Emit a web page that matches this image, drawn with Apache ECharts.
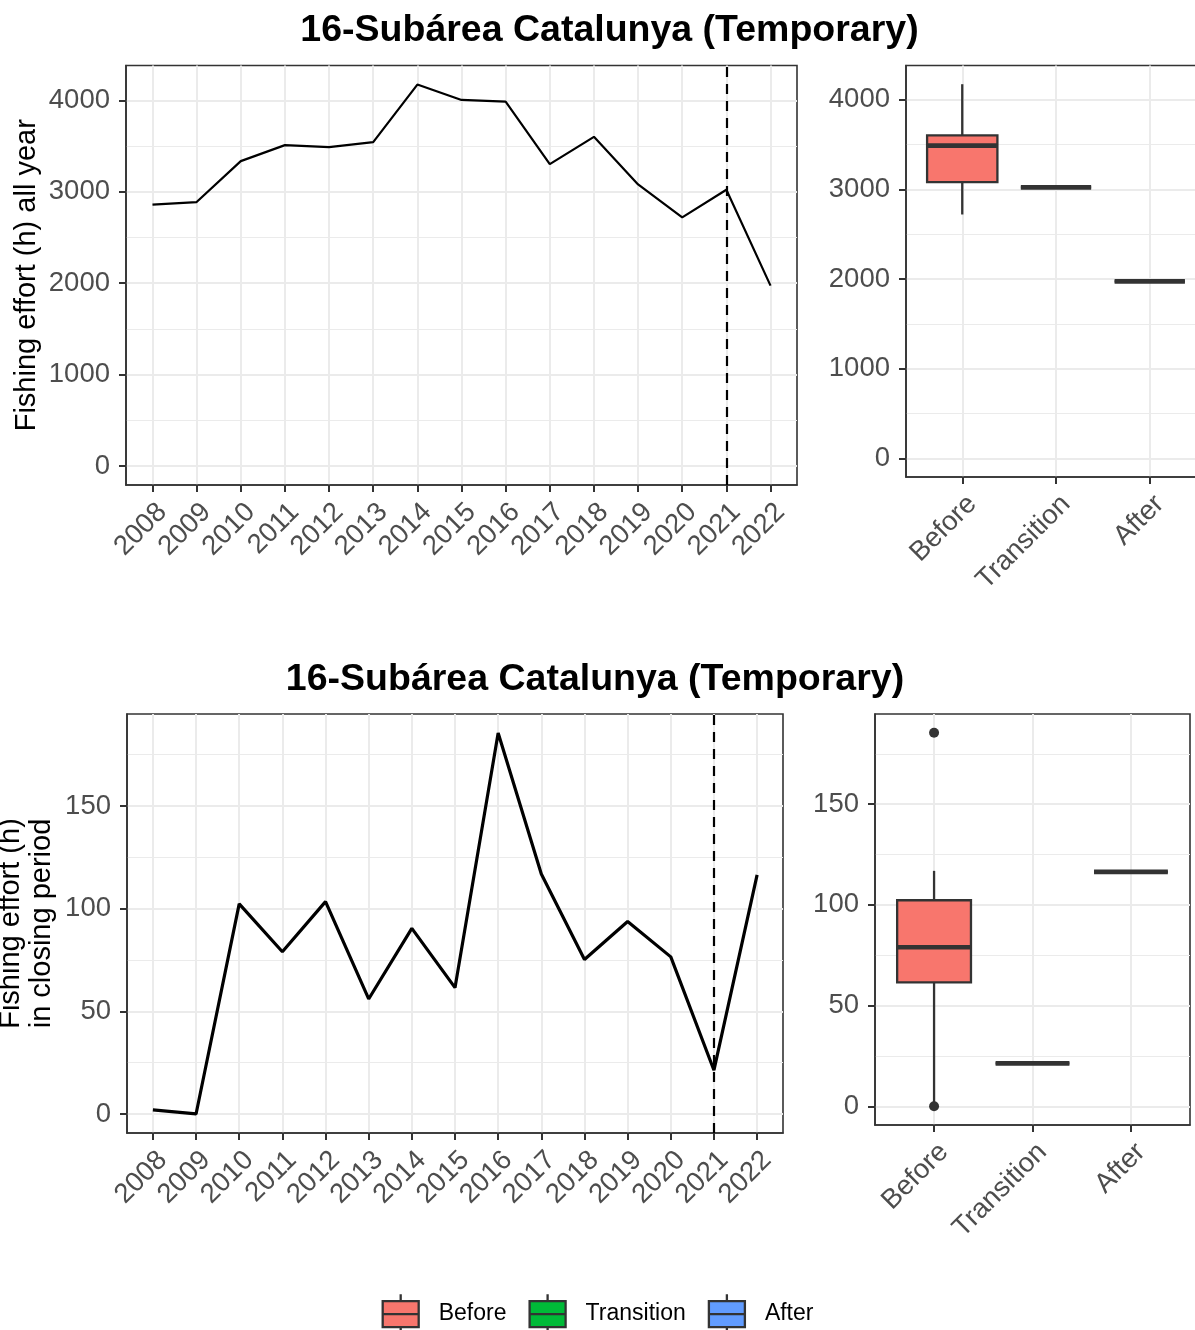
<!DOCTYPE html>
<html>
<head>
<meta charset="utf-8">
<title>16-Subárea Catalunya (Temporary)</title>
<script src="https://cdn.jsdelivr.net/npm/echarts@6/dist/echarts.min.js"></script>
<style>
  html, body { margin: 0; padding: 0; background: #ffffff; }
  #chart { width: 1195px; height: 1330px; }
</style>
</head>
<body>
<div id="chart"></div>
<script>
// Years on the time axis and the management period each one belongs to
const years = ['2008','2009','2010','2011','2012','2013','2014','2015','2016','2017','2018','2019','2020','2021','2022'];
const yearPeriod = ['Before','Before','Before','Before','Before','Before','Before','Before','Before','Before','Before','Before','Before','Transition','After'];
const periods = ['Before', 'Transition', 'After'];
const periodColors = ['#F8766D', '#00BA38', '#619CFF'];
const closureYear = '2021';

// Fishing effort (hours) over the whole year
const effortAllYear = [2860, 2889, 3337, 3512, 3490, 3545, 4175, 4007, 3989, 3304, 3603, 3082, 2721, 3024, 1974];
// Fishing effort (hours) inside the closing period
const effortClosing = [2, 0, 102.3, 79, 103.4, 56, 90.4, 61.5, 185.5, 116.9, 75.2, 93.7, 76.5, 21.3, 116.4];

// Tick values
const yTicksAllYear = [0, 1000, 2000, 3000, 4000];
const yMinorAllYear = [500, 1500, 2500, 3500];
const yTicksClosing = [0, 50, 100, 150];
const yMinorClosing = [25, 75, 125, 175];

const FONT = '"Liberation Sans", Arial, Helvetica, sans-serif';
const INK = '#333333';
const GRID_LINE = '#EBEBEB';
const LABEL_GREY = '#4D4D4D';
const TICK_SIZE = 27.5;

// Tukey boxplot statistics (R type-7 quantiles, 1.5 IQR whiskers)
function quantile(sorted, p) {
  const h = (sorted.length - 1) * p;
  const lo = Math.floor(h);
  const hi = Math.min(lo + 1, sorted.length - 1);
  return sorted[lo] + (h - lo) * (sorted[hi] - sorted[lo]);
}
function boxStats(values) {
  const s = values.slice().sort((a, b) => a - b);
  const q1 = quantile(s, 0.25), med = quantile(s, 0.5), q3 = quantile(s, 0.75);
  const iqr = q3 - q1;
  const fLo = q1 - 1.5 * iqr, fHi = q3 + 1.5 * iqr;
  const inside = s.filter(v => v >= fLo && v <= fHi);
  return {
    lo: inside[0], q1, med, q3, hi: inside[inside.length - 1],
    outliers: s.filter(v => v < fLo || v > fHi)
  };
}
function valuesOf(series, period) {
  return series.filter((v, i) => yearPeriod[i] === period);
}

// Discrete axes keep 0.6 of a step beyond the first/last category
function discreteRange(n) { return { min: 0.4, max: n + 0.6 }; }
function continuousRange(values) {
  const top = Math.max(...values);
  const pad = 0.05 * top;
  return { min: -pad, max: top + pad };
}

const axisLineStyle = { show: true, onZero: false, lineStyle: { color: INK, width: 1.6 } };
const tickStyle = { length: 7, lineStyle: { color: INK, width: 2 } };

function xAxisFor(gridIndex, labels) {
  const r = discreteRange(labels.length);
  const positions = labels.map((l, i) => i + 1);
  return {
    type: 'value', gridIndex, min: r.min, max: r.max,
    axisLine: axisLineStyle,
    axisTick: Object.assign({ show: true, inside: false, customValues: positions }, tickStyle),
    axisLabel: {
      customValues: positions, rotate: 45, align: 'right', verticalAlign: 'top',
      margin: 13, color: LABEL_GREY, fontSize: TICK_SIZE, fontFamily: FONT,
      formatter: v => labels[Math.round(v) - 1]
    },
    splitLine: { show: true, lineStyle: { color: GRID_LINE, width: 2 } }
  };
}
function yAxesFor(gridIndex, range, ticks, minor, name, nameGap) {
  return [{
    type: 'value', gridIndex, min: range.min, max: range.max,
    name: name, nameLocation: 'middle', nameGap: nameGap, nameMoveOverlap: false,
    nameTextStyle: { color: '#000', fontSize: 29, fontFamily: FONT, lineHeight: 31 },
    axisLine: axisLineStyle,
    axisTick: Object.assign({ show: true, inside: false, customValues: ticks }, tickStyle),
    axisLabel: {
      customValues: ticks, margin: 16, color: LABEL_GREY, fontSize: TICK_SIZE, fontFamily: FONT,
      formatter: v => String(v)
    },
    splitLine: { show: true, lineStyle: { color: GRID_LINE, width: 2 } }
  }, {
    type: 'value', gridIndex, min: range.min, max: range.max, position: 'left',
    axisLine: { show: false, onZero: false },
    axisTick: { show: false, customValues: minor },
    axisLabel: { show: false },
    splitLine: { show: true, lineStyle: { color: GRID_LINE, width: 1 } }
  }];
}

function renderBox(params, api) {
  const x = api.value(0);
  const half = api.size([0.75, 0])[0] / 2;
  const p = k => api.coord([x, api.value(k)]);
  const lo = p(1), q1 = p(2), med = p(3), q3 = p(4), hi = p(5);
  const fill = api.visual('color');
  const stroke = { stroke: INK, lineWidth: 2.3 };
  return {
    type: 'group',
    children: [
      { type: 'line', shape: { x1: lo[0], y1: lo[1], x2: q1[0], y2: q1[1] }, style: stroke },
      { type: 'line', shape: { x1: q3[0], y1: q3[1], x2: hi[0], y2: hi[1] }, style: stroke },
      { type: 'rect', shape: { x: q3[0] - half, y: q3[1], width: 2 * half, height: q1[1] - q3[1] },
        style: Object.assign({ fill: fill }, stroke) },
      { type: 'line', shape: { x1: med[0] - half, y1: med[1], x2: med[0] + half, y2: med[1] },
        style: { stroke: INK, lineWidth: 4.6, lineCap: 'butt' } }
    ]
  };
}

function boxSeries(values, xAxisIndex, yAxisIndex) {
  const out = [];
  const outlierPts = [];
  periods.forEach((period, k) => {
    const st = boxStats(valuesOf(values, period));
    out.push({
      name: period, type: 'custom', xAxisIndex, yAxisIndex,
      itemStyle: { color: periodColors[k] },
      renderItem: renderBox,
      encode: { x: 0, y: [1, 2, 3, 4, 5] },
      data: [[k + 1, st.lo, st.q1, st.med, st.q3, st.hi]],
      z: 3
    });
    st.outliers.forEach(v => outlierPts.push([k + 1, v]));
  });
  out.push({
    name: 'outliers', type: 'scatter', xAxisIndex, yAxisIndex,
    symbolSize: 10, itemStyle: { color: INK, opacity: 1 },
    data: outlierPts, z: 4
  });
  return out;
}

function lineSeries(values, xAxisIndex, yAxisIndex, width) {
  return {
    type: 'line', xAxisIndex, yAxisIndex,
    data: values.map((v, i) => [i + 1, v]),
    symbol: 'none', lineStyle: { color: '#000', width: width, cap: 'butt' },
    itemStyle: { color: '#000' },
    z: 3,
    markLine: {
      silent: true, symbol: 'none', label: { show: false },
      lineStyle: { color: '#000', type: [10, 7], width: 2.2 },
      data: [{ xAxis: years.indexOf(closureYear) + 1 }]
    }
  };
}

const rangeAllYear = continuousRange(effortAllYear);
const rangeClosing = continuousRange(effortClosing);

// Legend key: a small boxplot glyph
const KEY_PATH = 'path://M0,7L36,7L36,33L0,33Z M0,20L36,20 M18,0L18,7 M18,33L18,40';

const gridStyle = { show: true, borderColor: INK, borderWidth: 1.6, backgroundColor: '#fff', outerBoundsMode: 'none', containLabel: false };

const option = {
  animation: false,
  backgroundColor: '#ffffff',
  title: [
    { text: '16-Subárea Catalunya (Temporary)', left: 604.5, top: 7, textAlign: 'center',
      textStyle: { fontSize: 37.5, fontWeight: 'bold', color: '#000', fontFamily: FONT } },
    { text: '16-Subárea Catalunya (Temporary)', left: 590, top: 656, textAlign: 'center',
      textStyle: { fontSize: 37.5, fontWeight: 'bold', color: '#000', fontFamily: FONT } }
  ],
  grid: [
    Object.assign({ left: 126, top: 65.5, width: 671, height: 419.5 }, gridStyle),
    Object.assign({ left: 906, top: 65.5, width: 300, height: 411.5 }, gridStyle),
    Object.assign({ left: 127, top: 714, width: 656, height: 419 }, gridStyle),
    Object.assign({ left: 875, top: 714, width: 315, height: 411 }, gridStyle)
  ],
  xAxis: [
    xAxisFor(0, years),
    xAxisFor(1, periods),
    xAxisFor(2, years),
    xAxisFor(3, periods)
  ],
  yAxis: [].concat(
    yAxesFor(0, rangeAllYear, yTicksAllYear, yMinorAllYear, 'Fishing effort (h) all year', 84),
    yAxesFor(1, rangeAllYear, yTicksAllYear, yMinorAllYear, '', 0),
    yAxesFor(2, rangeClosing, yTicksClosing, yMinorClosing, 'Fishing effort (h)\nin closing period', 70),
    yAxesFor(3, rangeClosing, yTicksClosing, yMinorClosing, '', 0)
  ),
  legend: {
    left: 'center', top: 1293, orient: 'horizontal', padding: 0,
    itemWidth: 36, itemHeight: 40, itemGap: 22, selectedMode: false,
    textStyle: { fontSize: 23, color: '#000', fontFamily: FONT, padding: [0, 0, 0, 15] },
    data: periods.map((p, k) => ({
      name: p, icon: KEY_PATH,
      itemStyle: { color: periodColors[k], borderColor: INK, borderWidth: 2.3 }
    }))
  },
  series: [].concat(
    [lineSeries(effortAllYear, 0, 0, 2.2)],
    boxSeries(effortAllYear, 1, 2),
    [lineSeries(effortClosing, 2, 4, 3.2)],
    boxSeries(effortClosing, 3, 6)
  )
};

const chart = echarts.init(document.getElementById('chart'), null, { renderer: 'canvas' });
chart.setOption(option);
</script>
</body>
</html>
